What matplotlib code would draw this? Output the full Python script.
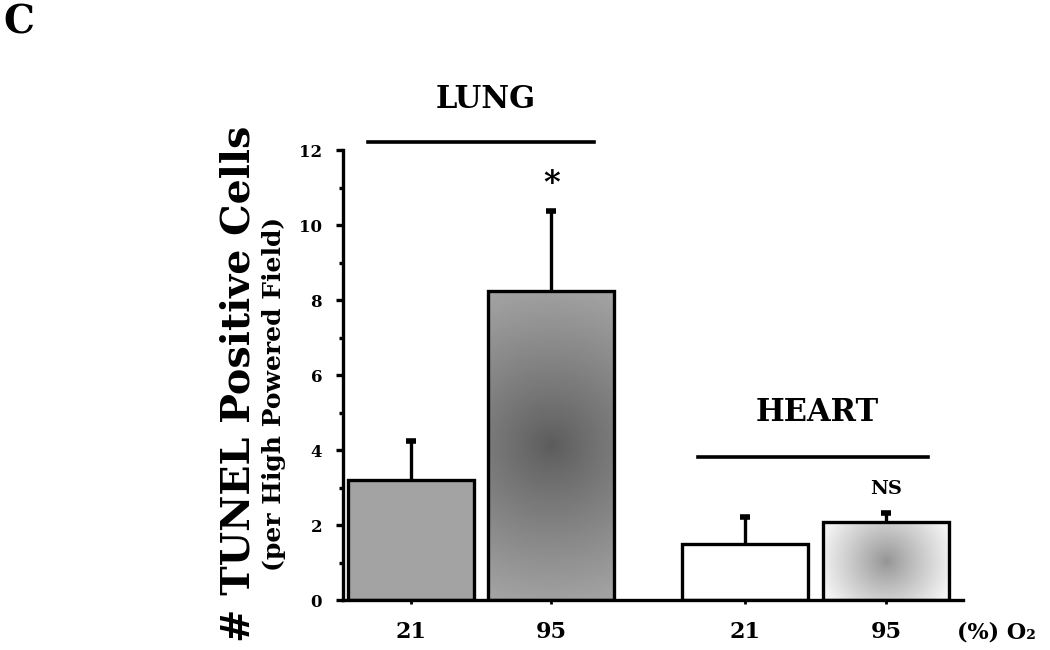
import numpy as np
import matplotlib
matplotlib.use("Agg")
import matplotlib.pyplot as plt

# data
groups = ["LUNG", "HEART"]
o2_labels = ["21", "95", "21", "95"]
means = [3.2, 8.25, 1.5, 2.07]
err_up = [1.05, 2.12, 0.71, 0.25]
marks = ["", "*", "", "NS"]

# layout
xpos = [0.0, 1.0, 2.386, 3.393]
width = 0.9

plt.rcParams['font.family'] = ['DejaVu Serif']
plt.rcParams['font.weight'] = 'bold'

fig = plt.figure(figsize=(10.5, 6.5), dpi=100)
ax = fig.add_axes([0.3267, 0.0769, 0.5905, 0.6923])
ax.set_xlim(-0.486, 3.94)
ax.set_ylim(0, 12)


def radial(bar, dark, light, power=1.0):
    # round gradient in screen space, radius = the longer half side
    x0, y0 = bar.get_x(), bar.get_y()
    w, h = bar.get_width(), bar.get_height()
    p0 = ax.transData.transform((x0, y0))
    p1 = ax.transData.transform((x0 + w, y0 + h))
    hw, hh = abs(p1[0] - p0[0]) / 2, abs(p1[1] - p0[1]) / 2
    rad = max(hw, hh) * 1.05
    yy, xx = np.mgrid[-hh:hh:300j, -hw:hw:300j]
    r = np.clip(np.sqrt(xx ** 2 + yy ** 2) / rad, 0, 1) ** power
    img = dark + (light - dark) * r
    im = ax.imshow(img, extent=[x0, x0 + w, y0, y0 + h], cmap='gray',
                   vmin=0, vmax=1, aspect='auto', origin='lower', zorder=1,
                   interpolation='bilinear')
    im.set_clip_path(bar)


fills = ['#a3a3a3', 'none', 'white', 'none']
bars = ax.bar(xpos, means, width=width, color=fills, edgecolor='black',
              linewidth=2.4, zorder=2)
radial(bars[1], 0.36, 0.64, 0.9)
radial(bars[3], 0.58, 0.95, 0.9)

tops = [m + e for m, e in zip(means, err_up)]
ax.vlines(xpos, means, tops, color='black', lw=2.4, zorder=3)
ax.plot(xpos, tops, ls='none', marker='_', ms=7, mew=4, color='black',
        zorder=3)

for x, t, s in zip(xpos, tops, marks):
    if s == "*":
        ax.text(x, t + 0.75, s, ha='center', va='center', fontsize=23)
    elif s:
        ax.text(x, t + 0.65, s, ha='center', va='center', fontsize=14)

# group bars and names
ax.plot([-0.307, 1.307], [12.21, 12.21], color='black', lw=2.6, clip_on=False)
ax.text(0.53, 13.36, groups[0], ha='center', va='center', fontsize=22)
ax.plot([2.05, 3.69], [3.81, 3.81], color='black', lw=2.6, clip_on=False)
ax.text(2.9, 4.99, groups[1], ha='center', va='center', fontsize=22)

for side in ['top', 'right']:
    ax.spines[side].set_visible(False)
ax.spines['left'].set_linewidth(2.4)
ax.spines['bottom'].set_linewidth(2.4)

ax.set_yticks(range(0, 13, 2))
ax.set_yticks(range(1, 12, 2), minor=True)
ax.tick_params(axis='y', which='major', length=5, width=2.4, pad=10,
               labelsize=12)
ax.tick_params(axis='y', which='minor', length=3, width=2.4)
ax.set_xticks(xpos)
ax.set_xticklabels(o2_labels)
ax.tick_params(axis='x', length=3, width=2, pad=12, labelsize=16)
for lab in ax.get_xticklabels() + ax.get_yticklabels():
    lab.set_fontweight('bold')

ax.text(3.9, -0.073, "(%) O\u2082", transform=ax.get_xaxis_transform(),
        ha='left', va='center', fontsize=16)

fig.text(0.2267, 0.409, "# TUNEL Positive Cells", rotation=90,
         ha='center', va='center', fontsize=28.5)
fig.text(0.261, 0.394, "(per High Powered Field)", rotation=90,
         ha='center', va='center', fontsize=18)

fig.text(0.003, 0.995, "C", ha='left', va='top', fontsize=28)

fig.savefig("out.png", dpi=100)
